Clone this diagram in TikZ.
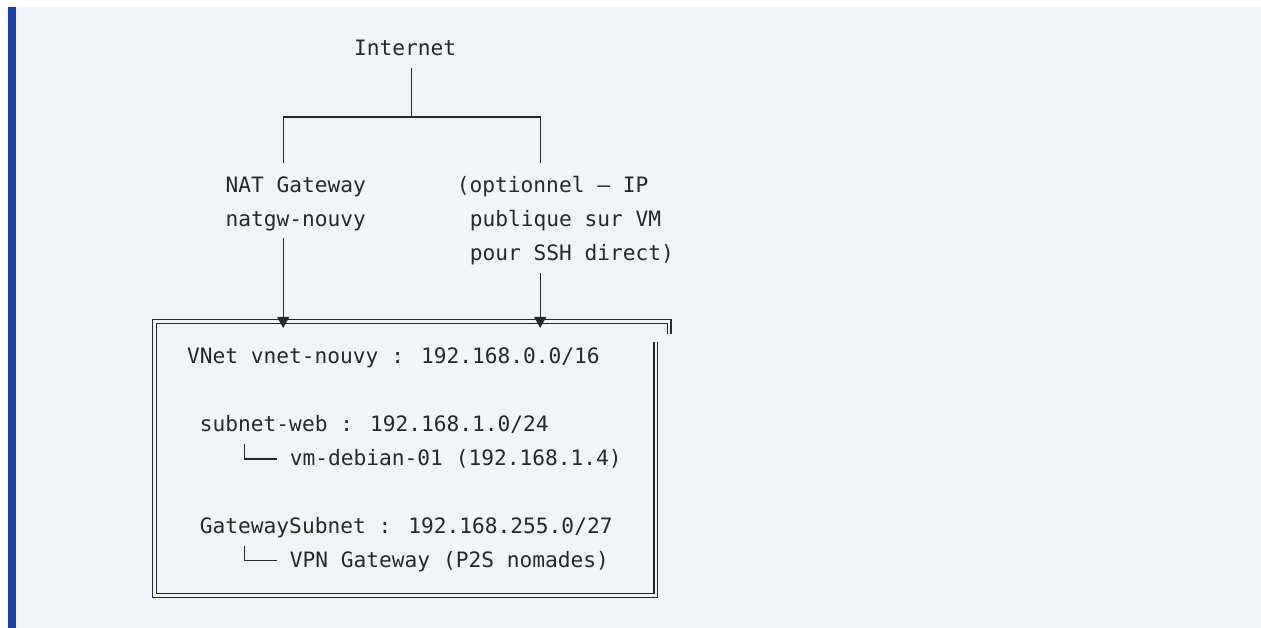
\documentclass[tikz,border=0pt]{standalone}
\usepackage{fontspec}
\newfontfamily\codefont{DejaVu Sans Mono}
\usetikzlibrary{arrows.meta}
\definecolor{ink}{RGB}{36,41,47}
\definecolor{panel}{RGB}{243,244,246}
\definecolor{bar}{RGB}{30,64,175}
\begin{document}
\begin{tikzpicture}[x=1pt,y=-1pt,
  txt/.style={font=\codefont\fontsize{21.2}{34}\selectfont, text=ink, inner sep=0pt, anchor=base west},
  wire/.style={draw=ink, line width=1.4pt},
  arr/.style={wire, -{Triangle[width=12pt,length=11pt]}},
  dbl/.style={draw=ink, line width=1.4pt, double=panel, double distance=2.5pt}]
\useasboundingbox (0,0) rectangle (1261,628);
\fill[white] (0,0) rectangle (1261,628);
\fill[panel] (8,7) rectangle (1261,628);
\fill[bar] (8,7) rectangle (16,628);

% text nodes
\node[txt] (inet)  at (353.9,56)    {Internet};
\node[txt] (nat)   at (225.4,192.5) {NAT Gateway};
\node[txt] (natgw) at (225.4,226.5) {natgw-nouvy};
\node[txt] (opt1)  at (456.7,192.5) {(optionnel – IP};
\node[txt] (opt2)  at (469.55,226.5) {publique sur VM};
\node[txt] (opt3)  at (469.55,260.5) {pour SSH direct)};
\node[txt] (vnet)  at (186.85,363)  {VNet vnet-nouvy : 192.168.0.0/16};
\node[txt] (snweb) at (199.7,431)   {subnet-web : 192.168.1.0/24};
\node[txt] (vm)    at (289.65,465)  {vm-debian-01 (192.168.1.4)};
\node[txt] (gwsn)  at (199.7,533)   {GatewaySubnet : 192.168.255.0/27};
\node[txt] (vpn)   at (289.65,567)  {VPN Gateway (P2S nomades)};

% junction coordinates
\coordinate (inetb) at (411.7,68);
\coordinate (j)     at (411.7,117);
\coordinate (L)     at (283.2,117);
\coordinate (R)     at (540.2,117);
\coordinate (Lb)    at (283.2,163);
\coordinate (Rb)    at (540.2,163);
\coordinate (natb)  at (283.2,238);
\coordinate (optb)  at (540.2,273);
\coordinate (tipL)  at (283.2,328);
\coordinate (tipR)  at (540.2,328);
\coordinate (t1a)   at (244.7,444.3);
\coordinate (t1b)   at (276.8,458.8);
\coordinate (t2a)   at (244.7,546.3);
\coordinate (t2b)   at (276.8,560.5);

% VNet box
\draw[dbl] (669.2,334) -- (669.2,321.5) -- (154.7,321.5) -- (154.7,595.5) -- (655.8,595.5) -- (655.8,341.7);

% connectors
\draw[wire] (inetb) -- (j);
\draw[wire] (Lb) -- (L) -- (R) -- (Rb);
\draw[arr] (natb) -- (tipL);
\draw[arr] (optb) -- (tipR);
\draw[wire] (t1a) |- (t1b);
\draw[wire] (t2a) |- (t2b);
\end{tikzpicture}
\end{document}
